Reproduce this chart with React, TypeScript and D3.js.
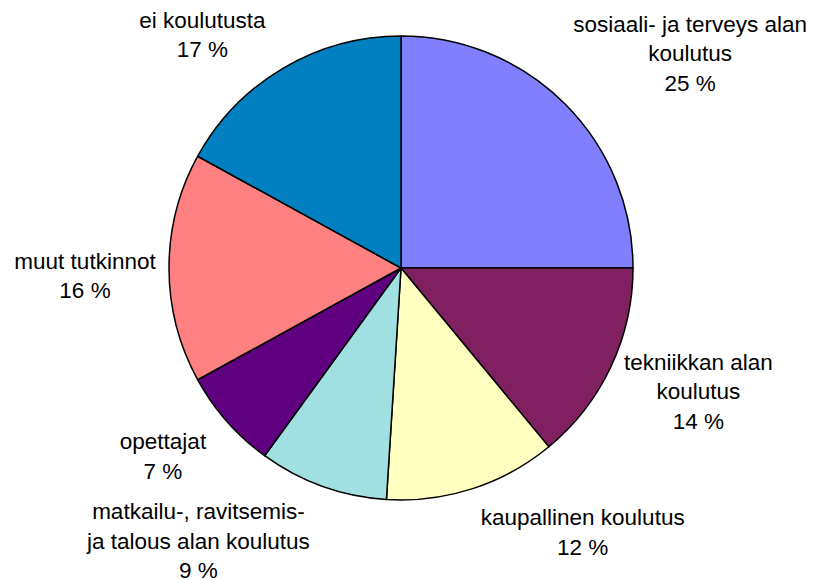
import React from 'react'
import * as d3 from 'd3'

// koulutustausta, osuus prosentteina
const categories = [
  ['sosiaali- ja terveys alan', 'koulutus'],
  ['tekniikkan alan', 'koulutus'],
  ['kaupallinen koulutus'],
  ['matkailu-, ravitsemis-', 'ja talous alan koulutus'],
  ['opettajat'],
  ['muut tutkinnot'],
  ['ei koulutusta']
]
const values = [25, 14, 12, 9, 7, 16, 17]
const colors = ['#8080FF', '#802060', '#FFFFC0', '#A0E0E0', '#600080', '#FF8080', '#0080C0']
// label nudges from the radial anchor, like the original's hand placed labels
const labelNudge = [[77, -2], [26, -4], [89, -21], [-101, -9], [-13, -10], [-16, 8], [-46, 25]]

const width = 820
const height = 579
const cx = 401
const cy = 268
const radius = 232
const lineH = 29.5

export default function App () {
  const pie = d3.pie<number>().sort(null).value(d => d)
  const arcs = pie(values)
  const arc = d3.arc<d3.PieArcDatum<number>>().innerRadius(0).outerRadius(radius)
  const labelArc = d3.arc<d3.PieArcDatum<number>>().innerRadius(300).outerRadius(300)

  return (
    <svg width={width} height={height} style={{ position: 'absolute', left: 0, top: 0 }}
      fontFamily='"Liberation Sans", Arial, sans-serif' fontSize={22.5}>
      <rect width={width} height={height} fill='#fff' />
      <g transform={`translate(${cx},${cy})`}>
        {arcs.map((a, i) => (
          <path key={i} d={arc(a) || ''} fill={colors[i]} stroke='#000' strokeWidth={1.5} strokeLinejoin='round' />
        ))}
        {arcs.map((a, i) => {
          const [x, y] = labelArc.centroid(a)
          const lines = [...categories[i], values[i] + ' %']
          const lx = x + labelNudge[i][0]
          const ly = y + labelNudge[i][1]
          const first = ly - (lines.length - 1) * lineH / 2 + 7.5
          return (
            <text key={'t' + i} textAnchor='middle' fill='#000'>
              {lines.map((l, j) => (
                <tspan key={j} x={lx} y={first + j * lineH}>{l}</tspan>
              ))}
            </text>
          )
        })}
      </g>
    </svg>
  )
}
